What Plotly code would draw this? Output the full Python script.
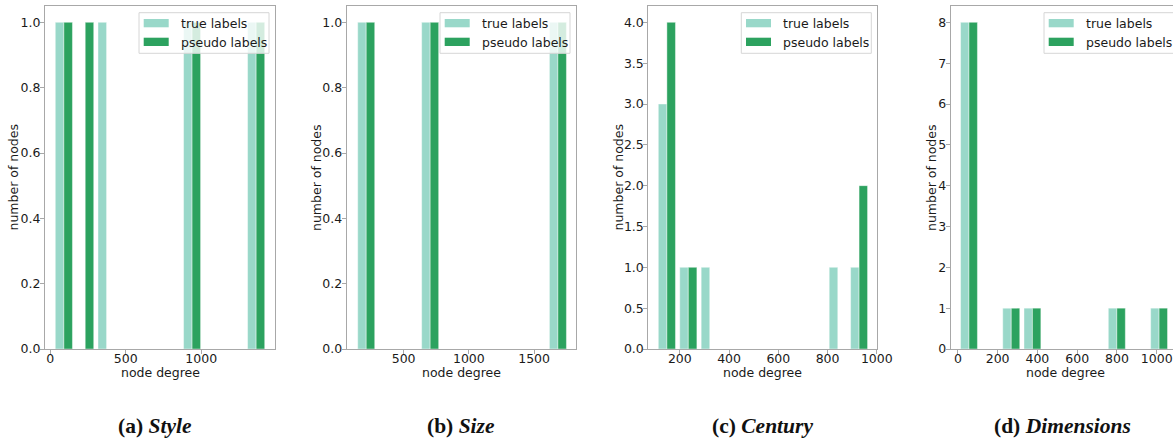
import plotly.graph_objects as go

# ---------------- data ----------------
# histogram bin edges (node degree) and counts for each panel
edges_a = [19, 161, 302, 444, 585, 727, 869, 1010, 1152, 1293, 1435]
true_a = [1, 0, 1, 0, 0, 0, 1, 0, 0, 1]
pseudo_a = [1, 1, 0, 0, 0, 0, 1, 0, 0, 1]

edges_b = [132, 295, 458, 622, 785, 948, 1111, 1274, 1438, 1601, 1764]
true_b = [1, 0, 0, 1, 0, 0, 0, 0, 0, 1]
pseudo_b = [1, 0, 0, 1, 0, 0, 0, 0, 0, 1]

edges_c = [104, 191, 278, 365, 451, 538, 625, 711, 798, 885, 971]
true_c = [3, 1, 1, 0, 0, 0, 0, 0, 1, 1]
pseudo_c = [4, 1, 0, 0, 0, 0, 0, 0, 0, 2]

edges_d = [3, 109, 215, 322, 428, 534, 640, 746, 853, 959, 1065]
true_d = [8, 0, 1, 1, 0, 0, 0, 1, 0, 1]
pseudo_d = [8, 0, 1, 1, 0, 0, 0, 1, 0, 1]

xticks_a = [0, 500, 1000]
xticks_b = [500, 1000, 1500]
xticks_c = [200, 400, 600, 800, 1000]
xticks_d = [0, 200, 400, 600, 800, 1000]

yticks_a = [0.0, 0.2, 0.4, 0.6, 0.8, 1.0]
yticks_b = [0.0, 0.2, 0.4, 0.6, 0.8, 1.0]
yticks_c = [0.0, 0.5, 1.0, 1.5, 2.0, 2.5, 3.0, 3.5, 4.0]
yticks_d = [0, 1, 2, 3, 4, 5, 6, 7, 8]

caption_tags = ["(a)", "(b)", "(c)", "(d)"]
caption_names = ["Style", "Size", "Century", "Dimensions"]
series_names = ["true labels", "pseudo labels"]
x_title = "node degree"
y_title = "number of nodes"

# ---------------- styling / layout ----------------
W, H = 1173, 440
C_TRUE = "#99d8c9"
C_PSEUDO = "#2ca25f"
AXC = "#a8a8a8"
TXT = "#1a1a1a"
FONT = "DejaVu Sans"

panels = [
    dict(edges=edges_a, t=true_a, p=pseudo_a, xt=xticks_a, yt=yticks_a,
         xr=[-35, 1489], yr=[0, 1.05], yfmt=".1f", left=45, right=275, full_right=275, ytx=13),
    dict(edges=edges_b, t=true_b, p=pseudo_b, xt=xticks_b, yt=yticks_b,
         xr=[64, 1821], yr=[0, 1.05], yfmt=".1f", left=346.7, right=576, full_right=576, ytx=316.5),
    dict(edges=edges_c, t=true_c, p=pseudo_c, xt=xticks_c, yt=yticks_c,
         xr=[72, 1002], yr=[0, 4.2], yfmt=".1f", left=648.3, right=877.3, full_right=877.3, ytx=618),
    dict(edges=edges_d, t=true_d, p=pseudo_d, xt=xticks_d, yt=yticks_d,
         xr=[-36, 1082], yr=[0, 8.4], yfmt="d", left=950.7, right=1173, full_right=1180, ytx=931.5),
]
TOP, BOTTOM = 6, 349
caption_x = [155, 461, 762, 1062]


def px(x):
    return x / W


def py(y):
    return 1 - y / H


fig = go.Figure()
shapes = []
annotations = []
layout = {}

for i, pn in enumerate(panels):
    k = "" if i == 0 else str(i + 1)
    xa, ya = "x" + k, "y" + k
    e = pn["edges"]
    lefts = e[:-1]
    bw = [e[j + 1] - e[j] for j in range(len(e) - 1)]
    for vals, col, off, name in [(pn["t"], C_TRUE, 0.1, series_names[0]),
                                 (pn["p"], C_PSEUDO, 0.5, series_names[1])]:
        fig.add_trace(go.Bar(
            x=lefts, y=vals, width=[0.4 * w for w in bw],
            offset=[off * w for w in bw], name=name,
            marker=dict(color=col, line=dict(color="rgba(255,255,255,0.7)", width=0.6)),
            xaxis=xa, yaxis=ya, showlegend=False))

    layout["xaxis" + k] = dict(
        domain=[px(pn["left"]), px(pn["right"])], anchor=ya, range=pn["xr"],
        automargin=False,
        showline=True, linecolor=AXC, linewidth=1, mirror=True,
        ticks="outside", ticklen=4, tickcolor=AXC, tickvals=pn["xt"],
        tickfont=dict(family=FONT, size=12.5, color=TXT), ticklabeloverflow="allow",
        ticklabelstandoff=-6,
        showgrid=False, zeroline=False)
    layout["yaxis" + k] = dict(
        domain=[py(BOTTOM), py(TOP)], anchor=xa, range=pn["yr"],
        automargin=False,
        showline=True, linecolor=AXC, linewidth=1, mirror=(i < 3),
        ticks="outside", ticklen=4, tickcolor=AXC, tickvals=pn["yt"],
        tickformat=pn["yfmt"], ticklabeloverflow="allow",
        ticklabelstandoff=-3,
        tickfont=dict(family=FONT, size=12.5, color=TXT),
        showgrid=False, zeroline=False)

    # axis titles
    annotations.append(dict(xref="paper", yref="paper",
                            x=px((pn["left"] + pn["full_right"]) / 2), y=py(372),
                            xanchor="center", yanchor="middle", showarrow=False,
                            text=x_title, font=dict(family=FONT, size=12.5, color=TXT)))
    annotations.append(dict(xref="paper", yref="paper",
                            x=px(pn["ytx"]), y=py((TOP + BOTTOM) / 2), textangle=-90,
                            xanchor="center", yanchor="middle", showarrow=False,
                            text=y_title, font=dict(family=FONT, size=12.5, color=TXT)))

    # legend box (matplotlib-style)
    bl = pn["full_right"] - 6 - 130
    shapes.append(dict(type="rect", xref="paper", yref="paper", layer="above",
                       x0=px(bl), x1=px(bl + 130), y0=py(53.3), y1=py(12.7),
                       fillcolor="rgba(255,255,255,0.8)", line=dict(color="#d6d6d6", width=1)))
    for r, (col, name) in enumerate([(C_TRUE, series_names[0]), (C_PSEUDO, series_names[1])]):
        y0 = 19 + r * 18.7
        shapes.append(dict(type="rect", xref="paper", yref="paper", layer="above",
                           x0=px(bl + 4.7), x1=px(bl + 29.7), y0=py(y0 + 8.3), y1=py(y0),
                           fillcolor=col, line=dict(width=0)))
        annotations.append(dict(xref="paper", yref="paper", x=px(bl + 39.7), y=py(y0 + 4.3),
                                xanchor="left", yanchor="middle", showarrow=False,
                                text=name, font=dict(family=FONT, size=12.5, color=TXT)))

    annotations.append(dict(xref="paper", yref="paper", x=px(caption_x[i]), y=py(426),
                            xanchor="center", yanchor="middle", showarrow=False,
                            text="<b>" + caption_tags[i] + " <i>" + caption_names[i] + "</i></b>",
                            font=dict(family="Liberation Serif", size=21.5, color="#111111")))

fig.update_layout(
    width=W, height=H, margin=dict(l=0, r=0, t=0, b=0, autoexpand=False),
    paper_bgcolor="white", plot_bgcolor="white",
    barmode="overlay", bargap=0,
    shapes=shapes, annotations=annotations, showlegend=False,
    **layout)

fig.write_html(
    "out.html",
    config={"displayModeBar": False, "staticPlot": True},
    post_script=("document.documentElement.style.margin='0px';"
                 "document.documentElement.style.overflow='hidden';"
                 "document.body.style.margin='0px';document.body.style.padding='0px';"
                 "document.body.style.overflow='hidden';"
                 "var gd=document.getElementById('{plot_id}');"
                 "gd.style.position='fixed';gd.style.left='0px';gd.style.top='0px';"))
